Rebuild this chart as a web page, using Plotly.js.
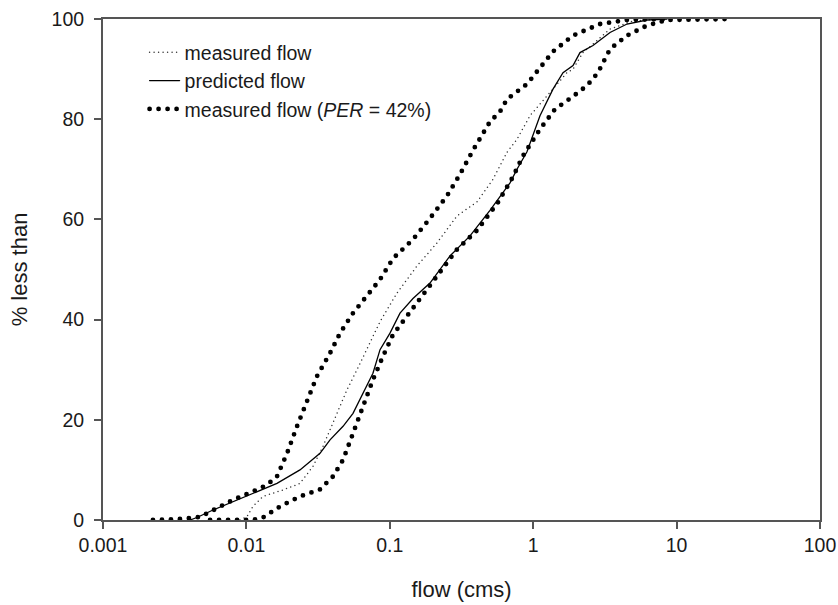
<!DOCTYPE html>
<html>
<head>
<meta charset="utf-8">
<script src="https://cdn.plot.ly/plotly-3.0.1.min.js"></script>
<style>
html, body { margin: 0; padding: 0; background: #fff; }
#chart { width: 838px; height: 605px; }
path.js-line { stroke-linecap: round !important; }
</style>
</head>
<body>
<div id="chart"></div>
<script>
// measured flow (thin dotted)
const measuredFlow = [0.00902, 0.0101, 0.0111, 0.01305, 0.0180, 0.02364, 0.02913, 0.0342, 0.0383, 0.0428, 0.0503, 0.0591, 0.0693, 0.0855, 0.1122, 0.1548, 0.2134, 0.2942, 0.4056, 0.5244, 0.6570, 0.7709, 0.950, 1.248, 1.721, 1.895, 2.225, 2.612, 3.433, 4.966, 7.66];
const measuredPct  = [0, 0.7, 2.7, 4.7, 6, 7.3, 10.7, 14.7, 18, 21.3, 26, 30, 34, 39.6, 45.3, 50.7, 55.3, 60.7, 63.5, 68, 73.4, 76, 80.7, 84.7, 89.3, 90, 93.3, 95, 98, 99.6, 100];

// predicted flow (solid)
const predictedFlow = [0.00404, 0.00452, 0.00585, 0.00806, 0.0111, 0.01634, 0.02364, 0.0326, 0.0383, 0.0472, 0.0554, 0.0650, 0.0763, 0.0855, 0.1003, 0.1178, 0.1451, 0.1906, 0.2629, 0.3625, 0.4996, 0.6893, 0.7709, 0.905, 1.115, 1.374, 1.614, 1.895, 2.120, 2.612, 3.433, 4.510, 6.219, 8.57];
const predictedPct  = [0, 0.5, 2, 3.7, 5.3, 7.3, 10, 13.3, 16, 18.7, 21.3, 25.3, 29.3, 34, 37.3, 41.3, 44.2, 47.3, 52.7, 56.7, 61.8, 67.3, 70, 73.5, 80.7, 86, 89.3, 90.7, 93.3, 94.7, 97.3, 99, 99.8, 100];

// measured flow PER = 42% : upper bound
const perUpperFlow = [0.00223, 0.00344, 0.00475, 0.00585, 0.00806, 0.0111, 0.0139, 0.01634, 0.0192, 0.02254, 0.02645, 0.03106, 0.0383, 0.0450, 0.0554, 0.0693, 0.0855, 0.1053, 0.1451, 0.1906, 0.2505, 0.3087, 0.3804, 0.4996, 0.5868, 0.6570, 0.905, 1.170, 1.374, 1.895, 2.922, 4.510, 8.57];
const perUpperPct  = [0, 0.2, 0.6, 2, 4, 5.7, 7, 8.7, 13.3, 18.7, 24, 28.7, 33.3, 37.3, 41.3, 44.7, 48, 52.2, 56, 60.2, 64.7, 69, 73.8, 79.5, 81.5, 84, 87, 91, 93.5, 96.7, 99, 99.8, 100];

// measured flow PER = 42% : lower bound
const perLowerFlow = [0.00558, 0.0111, 0.01305, 0.01715, 0.02364, 0.0326, 0.0402, 0.0472, 0.0554, 0.0650, 0.0763, 0.0897, 0.1053, 0.1318, 0.1677, 0.2239, 0.2942, 0.4056, 0.568, 0.7230, 0.849, 1.115, 1.419, 1.865, 2.373, 2.83, 3.433, 4.510, 6.219, 8.57, 14.56, 23.57];
const perLowerPct  = [0, 0, 0.5, 2.7, 4.7, 6.1, 8.7, 12, 17.3, 22.7, 28, 32.7, 37, 40.7, 44.7, 49.3, 54, 57.8, 63.4, 68.5, 72.7, 78, 82, 84.4, 86.7, 89.3, 94, 96.7, 98.7, 99.8, 100, 100];

const xTickVals = [0.001, 0.01, 0.1, 1, 10, 100];
const xTickText = ['0.001', '0.01', '0.1', '1', '10', '100'];
const yTickVals = [0, 20, 40, 60, 80, 100];

const fontFam = 'Liberation Sans, Arial, sans-serif';
const textCol = '#1a1a1a';
const axisCol = '#555555';

const traces = [
  { x: measuredFlow, y: measuredPct, mode: 'lines', name: 'measured flow',
    line: { color: '#333333', width: 1.5, dash: '0px,4.5px' } },
  { x: predictedFlow, y: predictedPct, mode: 'lines', name: 'predicted flow',
    line: { color: '#000000', width: 1.3 } },
  { x: perUpperFlow, y: perUpperPct, mode: 'lines', name: 'measured flow (<i>PER</i> = 42%)',
    legendgroup: 'per', line: { color: '#000000', width: 4.8, dash: '0px,9px' } },
  { x: perLowerFlow, y: perLowerPct, mode: 'lines', name: 'measured flow (<i>PER</i> = 42%)',
    legendgroup: 'per', showlegend: false, line: { color: '#000000', width: 4.8, dash: '0px,9px' } }
];

const layout = {
  width: 838, height: 605,
  margin: { l: 103, r: 18, t: 19, b: 85 },
  paper_bgcolor: '#ffffff', plot_bgcolor: '#ffffff',
  font: { family: fontFam, color: textCol, size: 19 },
  showlegend: true,
  legend: {
    x: 0.058, y: 0.972, xanchor: 'left', yanchor: 'top',
    bgcolor: 'rgba(0,0,0,0)', borderwidth: 0,
    font: { family: fontFam, size: 19.5, color: textCol },
    tracegroupgap: 0
  },
  xaxis: {
    type: 'log', range: [-3, 2],
    tickvals: xTickVals, ticktext: xTickText,
    ticks: 'outside', ticklen: 7, tickwidth: 2, tickcolor: axisCol,
    showline: true, linecolor: axisCol, linewidth: 2, mirror: true,
    showgrid: false, zeroline: false,
    tickfont: { family: fontFam, size: 19.5, color: textCol },
    title: { text: 'flow (cms)', font: { family: fontFam, size: 22, color: textCol }, standoff: 26 }
  },
  yaxis: {
    range: [0, 100], tickvals: yTickVals,
    ticks: 'outside', ticklen: 7, tickwidth: 2, tickcolor: axisCol,
    ticklabelstandoff: 6,
    showline: true, linecolor: axisCol, linewidth: 2, mirror: true,
    showgrid: false, zeroline: false,
    tickfont: { family: fontFam, size: 19.5, color: textCol },
    title: { text: '% less than', font: { family: fontFam, size: 22, color: textCol }, standoff: 18 }
  }
};

Plotly.newPlot('chart', traces, layout, { staticPlot: true, displayModeBar: false });
</script>
</body>
</html>
